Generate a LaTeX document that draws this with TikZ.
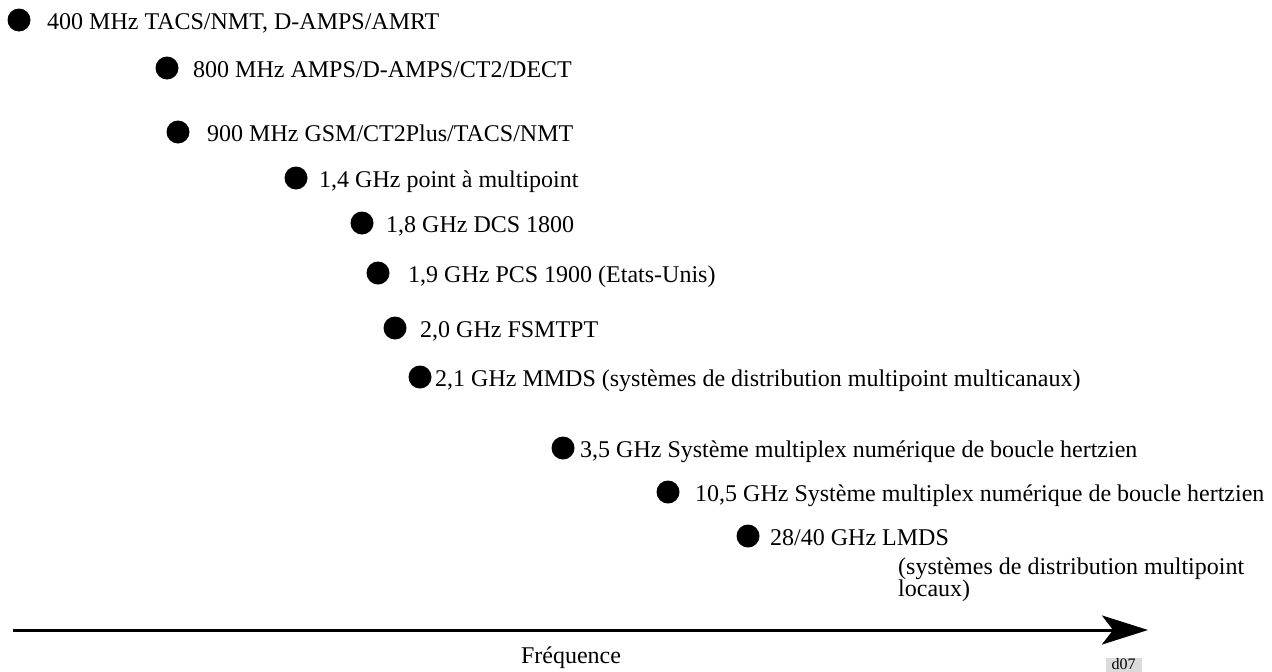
\documentclass[tikz,border=0pt]{standalone}
\usepackage{fontspec}
\setmainfont{Liberation Serif}
\usetikzlibrary{arrows.meta}
\begin{document}
\begin{tikzpicture}[x=1pt,y=-1pt,
  band/.style={circle,fill=black,draw=none,inner sep=0pt,minimum size=23pt},
  lbl/.style={anchor=base west,inner sep=0pt,font=\fontsize{24}{22}\selectfont},
  axis/.style={line width=3pt,-{Stealth[length=46pt,width=29pt,inset=11pt]}},
  tag/.style={fill=black!14,inner xsep=6pt,inner ysep=0pt,text height=11.5pt,text depth=2.5pt,
    font=\fontsize{16}{16}\selectfont},
]
\useasboundingbox (0,0) rectangle (1272,672);

% frequency bands: dot and label
\node[band] (d1)  at (19,20)  {};
\node[lbl]  (t1)  at (47,29)  {400 MHz TACS/NMT, D-AMPS/AMRT};
\node[band] (d2)  at (167,68) {};
\node[lbl]  (t2)  at (193,77) {800 MHz AMPS/D-AMPS/CT2/DECT};
\node[band] (d3)  at (178,132) {};
\node[lbl]  (t3)  at (207,141) {900 MHz GSM/CT2Plus/TACS/NMT};
\node[band] (d4)  at (296,178) {};
\node[lbl]  (t4)  at (319,187) {1,4 GHz point à multipoint};
\node[band] (d5)  at (362,223) {};
\node[lbl]  (t5)  at (386,232) {1,8 GHz DCS 1800};
\node[band] (d6)  at (378,273) {};
\node[lbl]  (t6)  at (408,282) {1,9 GHz PCS 1900 (Etats-Unis)};
\node[band] (d7)  at (395,328) {};
\node[lbl]  (t7)  at (420,337) {2,0 GHz FSMTPT};
\node[band] (d8)  at (420,377) {};
\node[lbl]  (t8)  at (435,386) {2,1 GHz MMDS (systèmes de distribution multipoint multicanaux)};
\node[band] (d9)  at (563,448) {};
\node[lbl]  (t9)  at (580,457) {3,5 GHz Système multiplex numérique de boucle hertzien};
\node[band] (d10) at (668,492) {};
\node[lbl]  (t10) at (695,501) {10,5 GHz Système multiplex numérique de boucle hertzien};
\node[band] (d11) at (748,536) {};
\node[lbl]  (t11) at (770,545) {28/40 GHz LMDS};
\node[lbl]  (t11a) at (898,574) {(systèmes de distribution multipoint};
\node[lbl]  (t11b) at (898,596.5) {locaux)};

% frequency axis
\coordinate (ax0) at (13,630);
\coordinate (ax1) at (1148,630);
\draw[axis] (ax0) -- (ax1);
\node[lbl,anchor=base] (freq) at (571,663) {Fréquence};

\node[tag,anchor=north] (ref) at (1123.5,658) {d07};
\end{tikzpicture}
\end{document}
